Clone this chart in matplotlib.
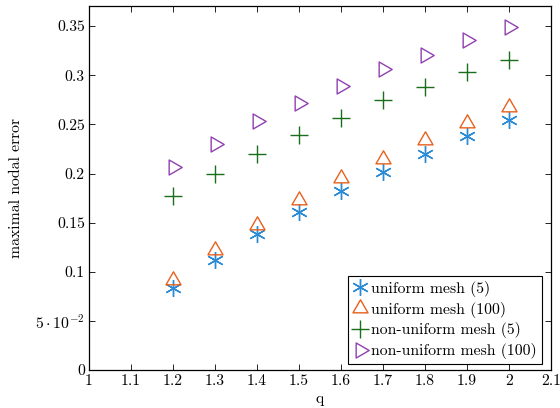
import matplotlib
matplotlib.use("Agg")
import matplotlib.pyplot as plt
from matplotlib.path import Path
import numpy as np

plt.rcParams['font.family'] = ['cmr10', 'DejaVu Serif']
plt.rcParams['mathtext.fontset'] = 'cm'
plt.rcParams['axes.formatter.use_mathtext'] = True

q = [1.2, 1.3, 1.4, 1.5, 1.6, 1.7, 1.8, 1.9, 2.0]
uniform_5 = [0.083, 0.112, 0.138, 0.161, 0.182, 0.202, 0.220, 0.238, 0.254]
uniform_100 = [0.092, 0.122, 0.148, 0.173, 0.195, 0.215, 0.234, 0.251, 0.268]
nonuniform_5 = [0.177, 0.200, 0.220, 0.239, 0.257, 0.275, 0.288, 0.303, 0.316]
nonuniform_100 = [0.207, 0.230, 0.253, 0.272, 0.289, 0.306, 0.321, 0.336, 0.349]

labels = ["uniform mesh (5)", "uniform mesh (100)",
          "non-uniform mesh (5)", "non-uniform mesh (100)"]
xticks = [1, 1.1, 1.2, 1.3, 1.4, 1.5, 1.6, 1.7, 1.8, 1.9, 2, 2.1]
xticklabels = ["1", "1.1", "1.2", "1.3", "1.4", "1.5", "1.6", "1.7", "1.8", "1.9", "2", "2.1"]
yticks = [0, 0.05, 0.1, 0.15, 0.2, 0.25, 0.3, 0.35]
yticklabels = ["0", r"$5\cdot10^{-2}$", "0.1", "0.15", "0.2", "0.25", "0.3", "0.35"]


def tri(angle_deg):
    angs = np.deg2rad(np.array([90, 210, 330, 90]) + angle_deg)
    verts = np.column_stack([np.cos(angs), np.sin(angs)])
    codes = [Path.MOVETO, Path.LINETO, Path.LINETO, Path.CLOSEPOLY]
    return Path(verts, codes)


tri_up = tri(0)
tri_right = tri(-90)

fs = 11.3
fig = plt.figure(figsize=(5.6, 4.08), dpi=100)
ax = fig.add_axes([89/560, 1 - 370/408, (551-89)/560, (370-5.5)/408])

ax.plot(q, uniform_5, linestyle='none', marker=(6, 2, 0), markersize=12,
        color='#2a8ad4', markeredgewidth=1.0, label=labels[0])
ax.plot(q, uniform_100, linestyle='none', marker=tri_up, markersize=12.5,
        markerfacecolor='none', markeredgecolor='#e8601c', markeredgewidth=1.0, label=labels[1])
ax.plot(q, nonuniform_5, linestyle='none', marker='+', markersize=12.5,
        color='#1b6e1b', markeredgewidth=1.0, label=labels[2])
ax.plot(q, nonuniform_100, linestyle='none', marker=tri_right, markersize=12.5,
        markerfacecolor='none', markeredgecolor='#9040b0', markeredgewidth=1.0, label=labels[3])

ax.set_xlim(1, 2.1)
ax.set_ylim(0, 0.371)
ax.set_xticks(xticks)
ax.set_xticklabels(xticklabels)
ax.set_yticks(yticks)
ax.set_yticklabels(yticklabels)
ax.tick_params(direction='in', top=True, right=True, length=4, width=0.6,
               labelsize=fs, pad=3)
for s in ax.spines.values():
    s.set_linewidth(0.9)
    s.set_color('black')

ax.set_xlabel("q", fontsize=fs, labelpad=3)
ax.set_ylabel("maximal nodal error", fontsize=fs, labelpad=9)

leg = ax.legend(loc='lower right', bbox_to_anchor=(1 - 3/462, 0), fontsize=fs,
                frameon=True, fancybox=False,
                edgecolor='black', framealpha=1, handlelength=1.0, handletextpad=0.2,
                borderpad=0.3, labelspacing=0.3, borderaxespad=0.4)
leg.get_frame().set_linewidth(0.8)

fig.savefig("out.png", dpi=100)
